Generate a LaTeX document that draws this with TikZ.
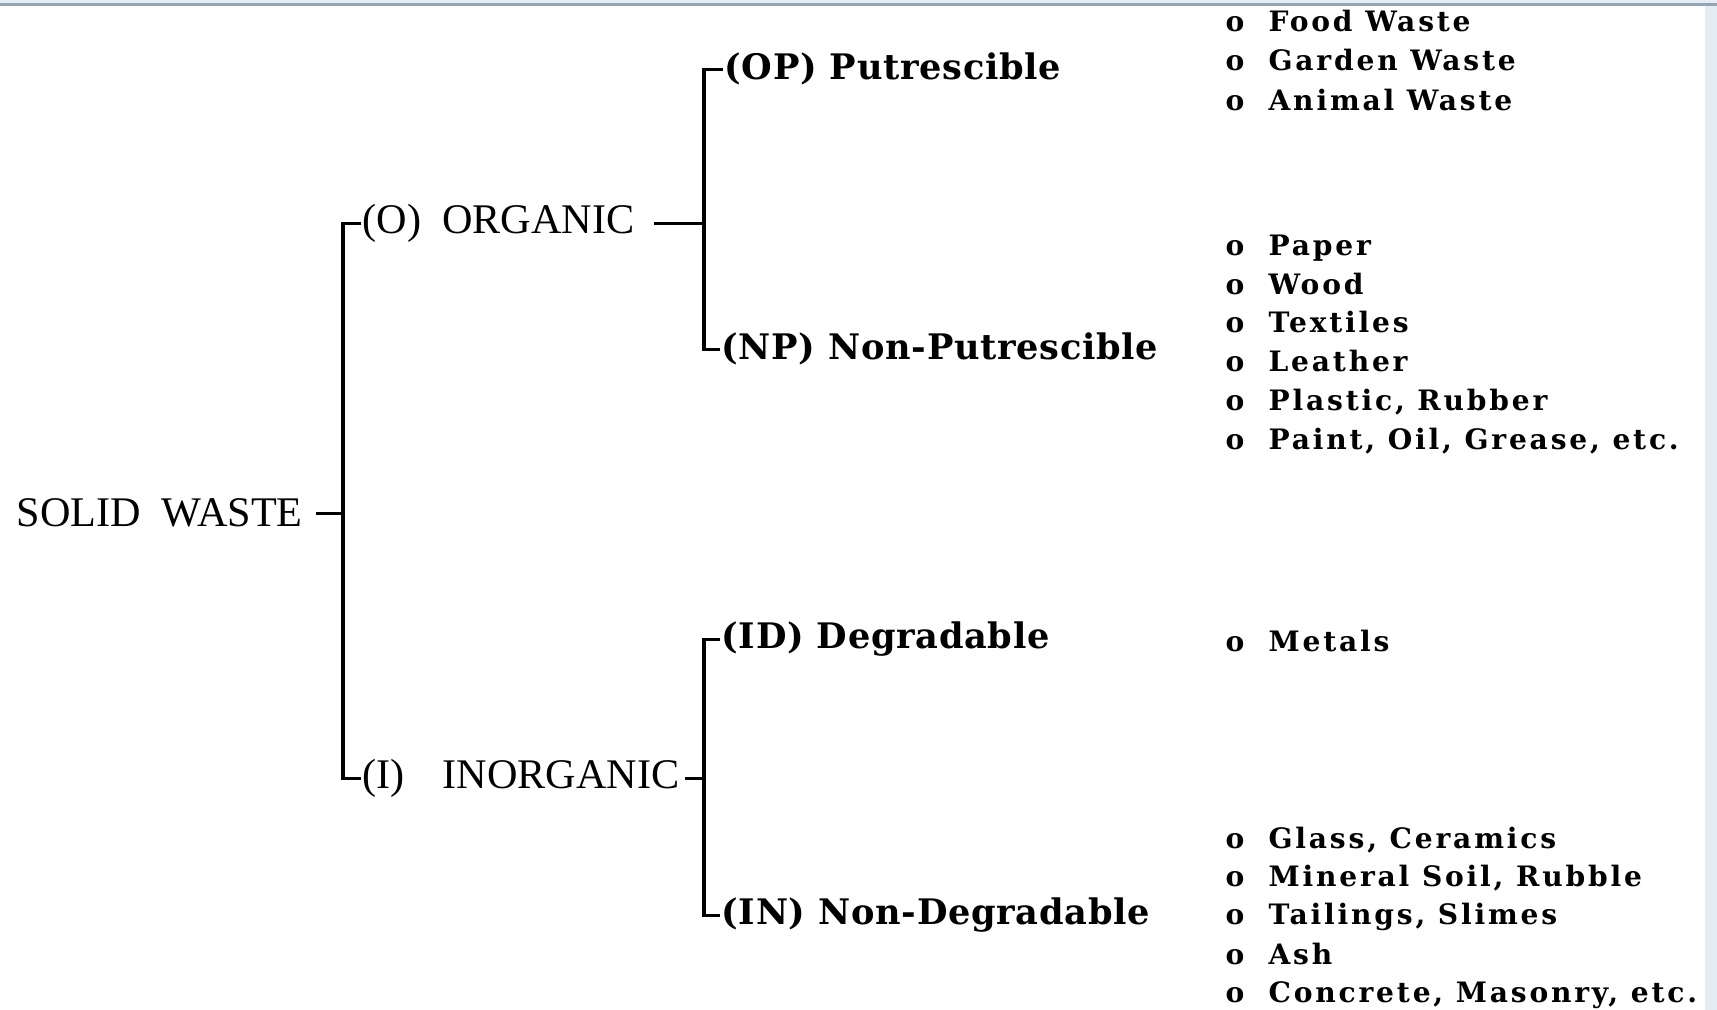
\documentclass[tikz,border=0pt]{standalone}
\usepackage{fontspec}
\newfontfamily\headfont{Liberation Serif}
\newfontfamily\subfont{DejaVu Serif}[LetterSpace=2]
\newfontfamily\slabfont{DejaVu Serif}[LetterSpace=10]
\definecolor{topline}{RGB}{150,163,180}
\definecolor{edgeblue}{RGB}{228,236,246}
\newcommand{\bul}{\makebox[0.43cm][l]{o}}

\begin{document}
\begin{tikzpicture}[x=0.01cm,y=-0.01cm,line width=0.9pt,
  head/.style={font=\headfont\fontsize{12}{14}\selectfont,anchor=base west,inner sep=0pt},
  sub/.style={font=\subfont\bfseries\fontsize{10}{12}\selectfont,anchor=base west,inner sep=0pt},
  item/.style={font=\slabfont\bfseries\fontsize{8}{10}\selectfont,anchor=base west,inner sep=0pt}]
\useasboundingbox (0,0) rectangle (1717,1010);
\fill[white] (0,0) rectangle (1717,1010);
\fill[edgeblue] (0,0) rectangle (1717,3);
\fill[topline] (0,3) rectangle (1717,6);
\fill[edgeblue] (1705,6) rectangle (1717,1010);

\node[head] (sw) at (15,527){SOLID\ \ WASTE};
\node[head] (org) at (361,234){(O)\ \ ORGANIC};
\node[head] (inorg) at (361,789){(I)\hspace{0.38cm}INORGANIC};

\node[sub] (op) at (723,80){(OP)\ Putrescible};
\node[sub] (np) at (720,360){(NP)\ Non-Putrescible};
\node[sub] (id) at (720,649){(ID)\ Degradable};
\node[sub] (in) at (720,925){(IN)\ Non-Degradable};

\node[item] (fw) at (1224,32){\bul Food Waste};
\node[item] (gw) at (1224,71){\bul Garden Waste};
\node[item] (aw) at (1224,111){\bul Animal Waste};

\node[item] (pa) at (1224,256){\bul Paper};
\node[item] (wo) at (1224,295){\bul Wood};
\node[item] (te) at (1224,333){\bul Textiles};
\node[item] (le) at (1224,372){\bul Leather};
\node[item] (pr) at (1224,411){\bul Plastic, Rubber};
\node[item] (po) at (1224,450){\bul Paint, Oil, Grease, etc.};

\node[item] (me) at (1224,652){\bul Metals};

\node[item] (gc) at (1224,849){\bul Glass, Ceramics};
\node[item] (ms) at (1224,887){\bul Mineral Soil, Rubble};
\node[item] (ts) at (1224,925){\bul Tailings, Slimes};
\node[item] (ash) at (1224,965){\bul Ash};
\node[item] (cm) at (1224,1003){\bul Concrete, Masonry, etc.};

% brackets
\coordinate (j1) at (sw.east -| 343,0);
\coordinate (j2) at (org.east -| 704,0);
\coordinate (j3) at (inorg.east -| 704,0);

\draw ([xshift=1.2mm]sw.east) -- (j1);
\draw (org.west) -| (j1) |- (inorg.west);
\draw ([xshift=1.8mm]org.east) -- (j2);
\draw (op.west) -| (j2) |- (np.west);
\draw ([xshift=0.4mm]inorg.east) -- (j3);
\draw (id.west) -| (j3) |- (in.west);
\end{tikzpicture}
\end{document}
